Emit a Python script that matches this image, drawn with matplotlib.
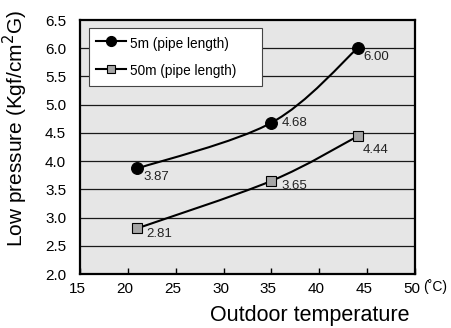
import numpy as np
import matplotlib
matplotlib.use("Agg")
import matplotlib.pyplot as plt
import matplotlib.transforms as mtransforms
from matplotlib.path import Path
from matplotlib.patches import PathPatch

plt.rcParams['font.family'] = ['Liberation Sans', 'DejaVu Sans']

temps = [21, 35, 44]
p_5m = [3.87, 4.68, 6.00]
p_50m = [2.81, 3.65, 4.44]
series_names = ["5m (pipe length)", "50m (pipe length)"]
x_ticks = [15, 20, 25, 30, 35, 40, 45, 50]
y_ticks = [2.0, 2.5, 3.0, 3.5, 4.0, 4.5, 5.0, 5.5, 6.0, 6.5]


def smooth_path(xs, ys):
    """Catmull-Rom curve through the points, as cubic Bezier segments."""
    pts = np.column_stack([xs, ys]).astype(float)
    ext = np.vstack([pts[0], pts, pts[-1]])
    verts = [tuple(pts[0])]
    codes = [Path.MOVETO]
    for i in range(1, len(ext) - 2):
        p0, p1, p2, p3 = ext[i - 1], ext[i], ext[i + 1], ext[i + 2]
        c1 = p1 + (p2 - p0) / 6.0
        c2 = p2 - (p3 - p1) / 6.0
        verts += [tuple(c1), tuple(c2), tuple(p2)]
        codes += [Path.CURVE4] * 3
    return Path(verts, codes)


fig = plt.figure(figsize=(4.52, 3.28), dpi=100)
ax = fig.add_axes([80 / 452, 1 - 274 / 328, 335 / 452, 254 / 328])
ax.set_facecolor('#e6e6e6')
ax.set_xlim(15, 50)
ax.set_ylim(2.0, 6.5)

for y in y_ticks[1:-1]:
    ax.axhline(y, color='#1a1a1a', lw=0.9, zorder=1)

for ys, marker, mfc, ms, name in [
    (p_5m, 'o', 'black', 8.5, series_names[0]),
    (p_50m, 's', '#a6a6a6', 7, series_names[1]),
]:
    ax.add_patch(PathPatch(smooth_path(temps, ys), facecolor='none',
                           edgecolor='black', lw=1.5, zorder=3))
    ax.plot(temps, ys, linestyle='none', marker=marker, mfc=mfc, mec='black',
            mew=0.8, ms=ms, zorder=4)
    ax.plot([], [], color='black', lw=1.5, marker=marker, mfc=mfc,
            mec='black', mew=0.8, ms=ms * 0.85, label=name)

offsets_5m = [(6, -9), (10, 0), (6, -9)]
offsets_50m = [(9, -6), (10, -5), (5, -14)]
for ys, offs in [(p_5m, offsets_5m), (p_50m, offsets_50m)]:
    for x, y, (dx, dy) in zip(temps, ys, offs):
        ax.annotate(f"{y:.2f}", (x, y), xytext=(dx, dy),
                    textcoords='offset pixels', fontsize=9.5, color='#222222',
                    ha='left', va='center', zorder=5)

ax.set_xticks(x_ticks)
ax.set_yticks(y_ticks)
ax.set_xticklabels([str(v) for v in x_ticks])
ax.set_yticklabels([f"{v:.1f}" for v in y_ticks])
ax.tick_params(axis='x', direction='in', length=4, width=1, labelsize=11,
               pad=6, colors='black')
ax.tick_params(axis='y', length=0, labelsize=11, pad=10)
shift = mtransforms.ScaledTranslation(-3 / 100, 0, fig.dpi_scale_trans)
for lbl in ax.get_xticklabels():
    lbl.set_transform(lbl.get_transform() + shift)
for s in ax.spines.values():
    s.set_linewidth(1.6)
    s.set_color('black')

leg_w = (262 - 89) / 335
leg_h = (86 - 28) / 254
leg_top = (274 - 28) / 254
leg = ax.legend(loc='upper left',
                bbox_to_anchor=(9 / 335, leg_top - leg_h, leg_w, leg_h),
                mode='expand', borderaxespad=0, fontsize=9.8,
                handlelength=2.2, handleheight=1.5, handletextpad=0.3,
                borderpad=0.5, labelspacing=0.8, fancybox=False,
                framealpha=1, edgecolor='#444444')
leg.get_frame().set_linewidth(0.8)

fig.text(423 / 452, 1 - 287 / 328, "(˚C)", fontsize=10, ha='left',
         va='center')
fig.text(310 / 452, 1 - 316 / 328, "Outdoor temperature", fontsize=15.5,
         ha='center', va='center')
fig.text(15 / 452, 1 - 129 / 328, "Low pressure (Kgf/cm$^2$G)", fontsize=15,
         rotation=90, ha='center', va='center')

fig.savefig('out.png', dpi=100)
